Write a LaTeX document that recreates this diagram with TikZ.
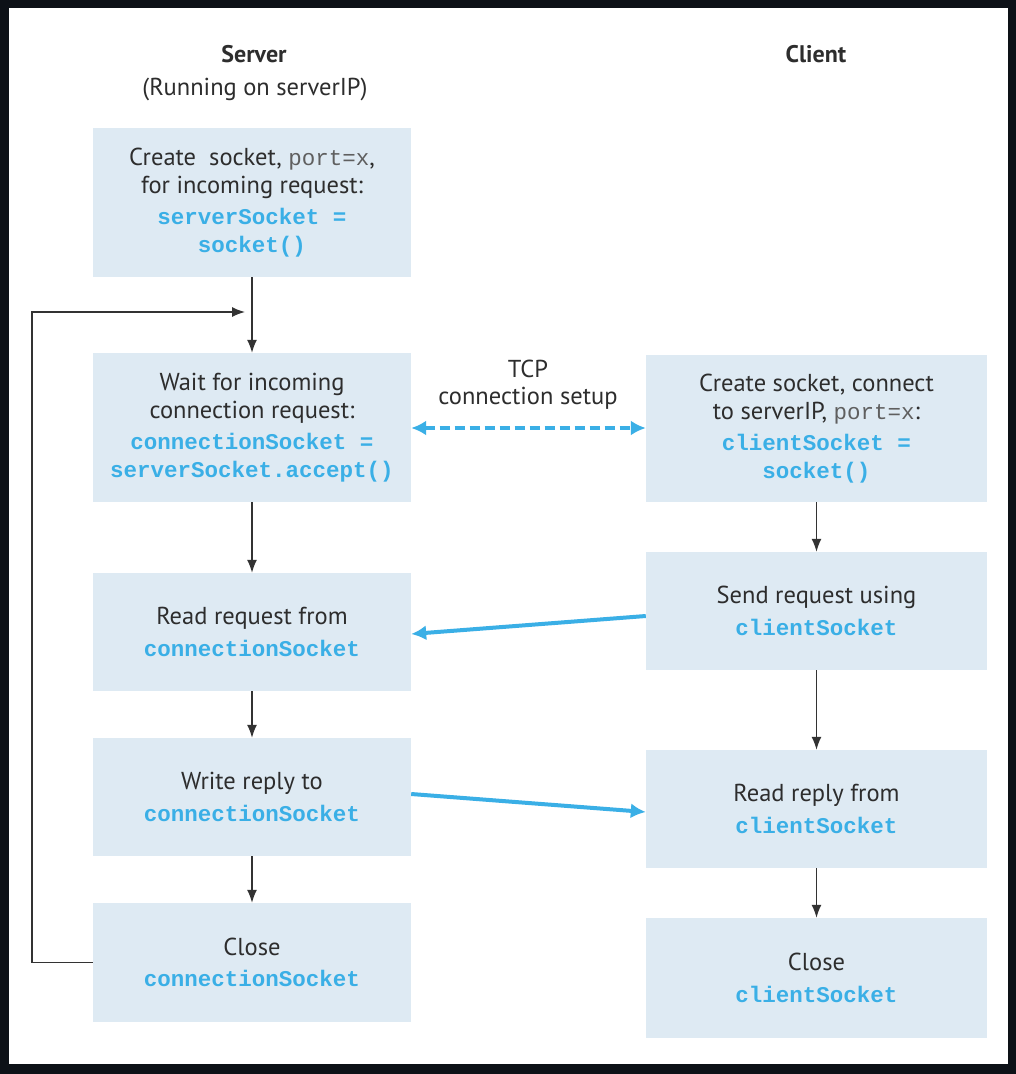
\documentclass[tikz,border=0pt]{standalone}
\usepackage{fontspec}
\setmainfont{PT Sans}
\newfontfamily\codefont{Liberation Mono}
\usetikzlibrary{arrows.meta}
\definecolor{rim}{RGB}{13,17,23}
\definecolor{boxfill}{RGB}{222,234,243}
\definecolor{codeblue}{RGB}{58,175,230}
\definecolor{txt}{RGB}{45,45,45}
\definecolor{codegray}{RGB}{95,95,95}
\newcommand{\cb}[1]{{\codefont\bfseries\fontsize{22.5}{28}\selectfont\color{codeblue}#1}}
\newcommand{\cg}[1]{{\codefont\fontsize{22.5}{28}\selectfont\color{codegray}#1}}
\begin{document}
\begin{tikzpicture}[x=1pt,y=-1pt,
  stepbox/.style={fill=boxfill, draw=none, inner sep=0pt, align=center,
    text=txt, font=\fontsize{24.5}{27.5}\selectfont},
  sbox/.style={stepbox, minimum width=318pt},
  cbox/.style={stepbox, minimum width=341pt},
  flow/.style={draw=black!80, line width=1.4pt, -{Latex[length=13pt,width=10pt]}},
  msg/.style={draw=codeblue, line width=4pt, -{Latex[length=15pt,width=15pt]}},
  hdr/.style={text=txt, font=\fontsize{24.5}{27.5}\selectfont}
]
\useasboundingbox (0,0) rectangle (1016,1074);
\fill[rim] (0,0) rectangle (1016,1074);
\fill[white] (9,8) rectangle (1008,1064);

% headers
\node[hdr, font=\fontsize{24}{27}\selectfont\bfseries] (hs) at (254,54) {Server};
\node[hdr] (hr) at (255,89) {(Running on serverIP)};
\node[hdr, font=\fontsize{24}{27}\selectfont\bfseries] (hc) at (816,54) {Client};

% server boxes
\node[sbox, minimum height=149pt] (b1) at (252,202.5)
  {Create\ \ socket, \cg{port=x},\\for incoming request:\\[4pt]\cb{serverSocket =}\\\cb{socket()}};
\node[sbox, minimum height=149pt] (b2) at (252,427.5)
  {Wait for incoming\\connection request:\\[4pt]\cb{connectionSocket =}\\\cb{serverSocket.accept()}};
\node[sbox, minimum height=118pt] (b3) at (252,632)
  {Read request from\\[4pt]\cb{connectionSocket}};
\node[sbox, minimum height=118pt] (b4) at (252,797)
  {Write reply to\\[4pt]\cb{connectionSocket}};
\node[sbox, minimum height=119pt] (b5) at (252,962.5)
  {Close\\[4pt]\cb{connectionSocket}};

% client boxes
\node[cbox, minimum height=147pt] (c1) at (816.5,428.5)
  {Create socket, connect\\to serverIP, \cg{port=x}:\\[4pt]\cb{clientSocket =}\\\cb{socket()}};
\node[cbox, minimum height=118pt] (c2) at (816.5,611)
  {Send request using\\[4pt]\cb{clientSocket}};
\node[cbox, minimum height=118pt] (c3) at (816.5,809)
  {Read reply from\\[4pt]\cb{clientSocket}};
\node[cbox, minimum height=120pt] (c4) at (816.5,978)
  {Close\\[4pt]\cb{clientSocket}};

% TCP label
\node[hdr, align=center] (tcp) at (528,384.5) {TCP\\connection setup};

% server flow
\draw[flow] (b1.south) -- (b2.north);
\draw[flow] (b2.south) -- (b3.north);
\draw[flow] (b3.south) -- (b4.north);
\draw[flow] (b4.south) -- (b5.north);
\coordinate (loopend) at (245,312);
\draw[flow] (b5.west) -- (32,962.5) -- (32,312) -- (loopend);

% client flow
\draw[flow] (c1.south) -- (c2.north);
\draw[flow] (c2.south) -- (c3.north);
\draw[flow] (c3.south) -- (c4.north);

% messages
\draw[draw=codeblue, line width=4pt, dash pattern=on 10pt off 5pt,
  {Latex[length=15pt,width=15pt]}-{Latex[length=15pt,width=15pt]}]
  ([yshift=-0.5pt]b2.east) -- ([yshift=0.5pt]c1.west);
\draw[msg] ([yshift=-5pt]c2.west) -- ([yshift=-2pt]b3.east);
\draw[msg] ([yshift=3pt]b4.east) -- ([yshift=-3pt]c3.west);
\end{tikzpicture}
\end{document}
